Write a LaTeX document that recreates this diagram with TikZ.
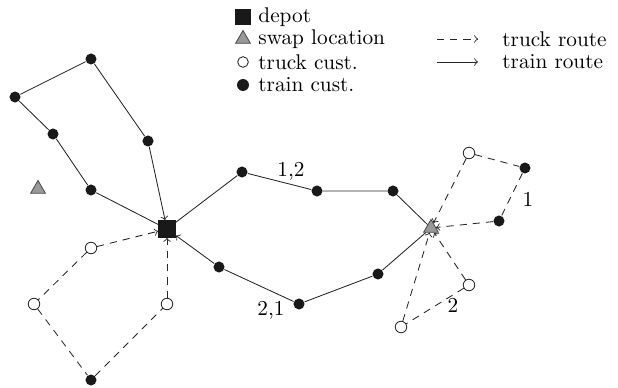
\documentclass[tikz,border=0pt]{standalone}
\usetikzlibrary{shapes.geometric}
\begin{document}
\begin{tikzpicture}[x=0.47pt,y=-0.47pt,
  train/.style={circle,fill=black!90,inner sep=0pt,minimum size=5.2pt},
  truck/.style={circle,draw=black!85,fill=white,inner sep=0pt,minimum size=5.4pt},
  depot/.style={rectangle,fill=black!90,inner sep=0pt,minimum size=8pt},
  swap/.style={regular polygon,regular polygon sides=3,draw=black!70,fill=gray!80,inner sep=0pt,minimum size=8pt},
  ldepot/.style={rectangle,fill=black!90,inner sep=0pt,minimum size=7.8pt},
  lswap/.style={regular polygon,regular polygon sides=3,draw=black!70,fill=gray!80,inner sep=0pt,minimum size=8pt},
  ltruck/.style={circle,draw=black!85,fill=white,inner sep=0pt,minimum size=5pt},
  ltrain/.style={circle,fill=black!90,inner sep=0pt,minimum size=5.6pt},
  ltext/.style={anchor=west,inner sep=0pt},
  tr/.style={draw=black!85},
  tk/.style={draw=black!85,dash pattern=on 3.4pt off 2.8pt},
  lab/.style={inner sep=0pt}
]
\useasboundingbox (0,0) rectangle (618,388);
% legend
\node[ldepot] (L1) at (243,17) {};
\node[ltext] (L1t) at (258,17) {depot};
\node[lswap] (L2) at (243,39) {};
\node[ltext] (L2t) at (258,39) {swap location};
\node[ltruck] (L3) at (243,62) {};
\node[ltext] (L3t) at (258,62) {truck cust.};
\node[ltrain] (L4) at (243,85) {};
\node[ltext] (L4t) at (258,85) {train cust.};
\coordinate (A1s) at (437,39);
\coordinate (A1e) at (478,39);
\coordinate (A2s) at (437,62);
\coordinate (A2e) at (478,62);
\draw[tk,->] (A1s) -- (A1e);
\draw[tr,->] (A2s) -- (A2e);
\node[ltext] (L5t) at (502,39) {truck route};
\node[ltext] (L6t) at (502,62) {train route};
% nodes
\node[depot] (D) at (167,229) {};
\node[swap] (S1) at (38,189) {};
\node[swap] (S2) at (431,228) {};
\node[train] (a) at (91,59) {};
\node[train] (b) at (15,97) {};
\node[train] (c) at (53,134) {};
\node[train] (d) at (148,141) {};
\node[train] (e) at (91,190) {};
\node[train] (f) at (242,172) {};
\node[train] (g) at (317,191) {};
\node[train] (h) at (393,191) {};
\node[train] (i) at (378,274) {};
\node[train] (j) at (299,304) {};
\node[train] (k) at (219,267) {};
\node[truck] (t1) at (91,248) {};
\node[truck] (t2) at (34,304) {};
\node[train] (l) at (91,380) {};
\node[truck] (t3) at (167,304) {};
\node[truck] (u1) at (469,153) {};
\node[train] (u2) at (525,168) {};
\node[train] (u3) at (499,221) {};
\node[truck] (v1) at (469,285) {};
\node[truck] (v2) at (401,327) {};
% train routes
\draw[tr] (D) -- (e) -- (c) -- (b) -- (a) -- (d);
\draw[tr,->] (d) -- (D);
\draw[tr] (D) -- (f) -- (g) -- (h) -- (S2) -- (i) -- (j) -- (k);
\draw[tr,->] (k) -- (D);
% truck routes
\draw[tk,->] (t1) -- (D);
\draw[tk] (t1) -- (t2) -- (l) -- (t3);
\draw[tk,->] (t3) -- (D);
\draw[tk,->] (u1) -- (S2);
\draw[tk] (u1) -- (u2) -- (u3);
\draw[tk,->] (u3) -- (S2);
\draw[tk,->] (v1) -- (S2);
\draw[tk] (v1) -- (v2);
\draw[tk,->] (v2) -- (S2);
% labels
\node[lab] (n12) at (291,171) {1,2};
\node[lab] (n21) at (271,310) {2,1};
\node[lab] (n1) at (528,199) {1};
\node[lab] (n2) at (453,305) {2};
\end{tikzpicture}
\end{document}
